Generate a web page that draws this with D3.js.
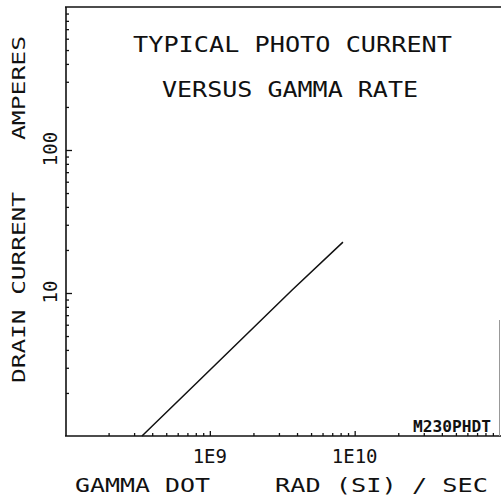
<!DOCTYPE html>
<html>
<head>
<meta charset="utf-8">
<script src="https://cdn.jsdelivr.net/npm/d3@7"></script>
<style>
  html, body { margin: 0; padding: 0; background: #fff; }
  svg { display: block; }
  .lbl { font-family: "DejaVu Sans Mono", monospace; fill: #111; }
</style>
</head>
<body>
<svg id="chart"></svg>
<script>
// values (log-log)
const gammaDot = [3.4e8, 8.1e8, 3.7e9, 8.3e9];      // rad(Si)/sec
const drainCurrent = [1.0, 2.35, 10.5, 22.7];        // amperes

const xMajorTicks = [1e9, 1e10];
const xMajorLabels = ['1E9', '1E10'];
const yMajorTicks = [10, 100];
const yMajorLabels = ['10', '100'];
const decadeSteps = [2, 3, 4, 5, 6, 7, 8, 9];

const titleLines = ['TYPICAL PHOTO CURRENT', 'VERSUS GAMMA RATE'];
const xTitleLeft = 'GAMMA DOT';
const xTitleRight = 'RAD (SI) / SEC';
const yTitleLow = 'DRAIN CURRENT';
const yTitleHigh = 'AMPERES';
const plotId = 'M230PHDT';

const width = 501;
const height = 497;
const margin = { top: 7, right: 1.5, bottom: 61, left: 65 };

const svg = d3.select('#chart')
  .attr('width', width)
  .attr('height', height);

const x = d3.scaleLog()
  .domain([1e8, 1e11])
  .range([margin.left, width - margin.right]);

const y = d3.scaleLog()
  .domain([1, 1000])
  .range([height - margin.bottom, margin.top]);

const minorTicks = (lo, hi) => {
  const out = [];
  for (let e = lo; e < hi; e++) {
    decadeSteps.forEach((s) => out.push(s * Math.pow(10, e)));
  }
  return out;
};

const x0 = x.range()[0];
const y0 = y.range()[0];

// axes: ticks point into the plot, one group per tick set
const addAxis = (axis, transform) => {
  const g = svg.append('g')
    .attr('transform', transform)
    .call(axis);
  g.select('.domain').remove();
  g.selectAll('.tick line').attr('stroke', '#111').attr('stroke-width', 1.3);
};

addAxis(d3.axisBottom(x).tickValues(minorTicks(8, 11)).tickSize(-3).tickFormat(''),
  `translate(0, ${ y0 })`);
addAxis(d3.axisBottom(x).tickValues(xMajorTicks).tickSize(-5).tickFormat(''),
  `translate(0, ${ y0 })`);
addAxis(d3.axisLeft(y).tickValues(minorTicks(0, 3)).tickSize(-3).tickFormat(''),
  `translate(${ x0 + 1 }, 0)`);
addAxis(d3.axisLeft(y).tickValues(yMajorTicks).tickSize(-6).tickFormat(''),
  `translate(${ x0 + 1 }, 0)`);

// frame
svg.append('line')
  .attr('x1', x0 + 1).attr('x2', x0 + 1)
  .attr('y1', y.range()[1]).attr('y2', y0)
  .attr('stroke', '#111').attr('stroke-width', 1.6);
svg.append('line')
  .attr('x1', x0).attr('x2', width)
  .attr('y1', y0).attr('y2', y0)
  .attr('stroke', '#111').attr('stroke-width', 1.6);
svg.append('line')
  .attr('x1', x0).attr('x2', width)
  .attr('y1', y.range()[1]).attr('y2', y.range()[1])
  .attr('stroke', '#111').attr('stroke-width', 1.6);
svg.append('line')
  .attr('x1', 499.5).attr('x2', 499.5)
  .attr('y1', 320).attr('y2', y0)
  .attr('stroke', '#999').attr('stroke-width', 1);

// curve
const line = d3.line()
  .x((d, i) => x(gammaDot[i]))
  .y((d) => y(d));

svg.append('path')
  .datum(drainCurrent)
  .attr('d', line)
  .attr('fill', 'none')
  .attr('stroke', '#111')
  .attr('stroke-width', 1.5);

// title
svg.append('text').attr('class', 'lbl')
  .attr('x', 133).attr('y', 52)
  .attr('font-size', 21)
  .attr('textLength', 319).attr('lengthAdjust', 'spacingAndGlyphs')
  .text(titleLines[0]);
svg.append('text').attr('class', 'lbl')
  .attr('x', 162).attr('y', 97)
  .attr('font-size', 21)
  .attr('textLength', 256).attr('lengthAdjust', 'spacingAndGlyphs')
  .text(titleLines[1]);

// x tick labels
svg.selectAll('.xlab')
  .data(xMajorTicks)
  .enter().append('text')
  .attr('class', 'lbl xlab')
  .attr('x', (d) => x(d))
  .attr('y', 463)
  .attr('font-size', 19)
  .attr('text-anchor', 'middle')
  .text((d, i) => xMajorLabels[i]);

// y tick labels (rotated)
svg.selectAll('.ylab')
  .data(yMajorTicks)
  .enter().append('text')
  .attr('class', 'lbl ylab')
  .attr('transform', (d) => `translate(57, ${ y(d) - 1 }) rotate(-90)`)
  .attr('font-size', 19)
  .attr('text-anchor', 'middle')
  .text((d, i) => yMajorLabels[i]);

// axis titles
svg.append('text').attr('class', 'lbl')
  .attr('x', 75).attr('y', 492)
  .attr('font-size', 20)
  .attr('textLength', 135).attr('lengthAdjust', 'spacingAndGlyphs')
  .text(xTitleLeft);
svg.append('text').attr('class', 'lbl')
  .attr('x', 275).attr('y', 492)
  .attr('font-size', 20)
  .attr('textLength', 213).attr('lengthAdjust', 'spacingAndGlyphs')
  .text(xTitleRight);

svg.append('text').attr('class', 'lbl')
  .attr('transform', 'translate(25, 383) rotate(-90)')
  .attr('font-size', 18)
  .attr('textLength', 191).attr('lengthAdjust', 'spacingAndGlyphs')
  .text(yTitleLow);
svg.append('text').attr('class', 'lbl')
  .attr('transform', 'translate(25, 140) rotate(-90)')
  .attr('font-size', 18)
  .attr('textLength', 104).attr('lengthAdjust', 'spacingAndGlyphs')
  .text(yTitleHigh);

// plot id
svg.append('text').attr('class', 'lbl')
  .attr('x', 413).attr('y', 432)
  .attr('font-size', 16)
  .attr('font-weight', 'bold')
  .attr('textLength', 78).attr('lengthAdjust', 'spacingAndGlyphs')
  .text(plotId);
</script>
</body>
</html>
